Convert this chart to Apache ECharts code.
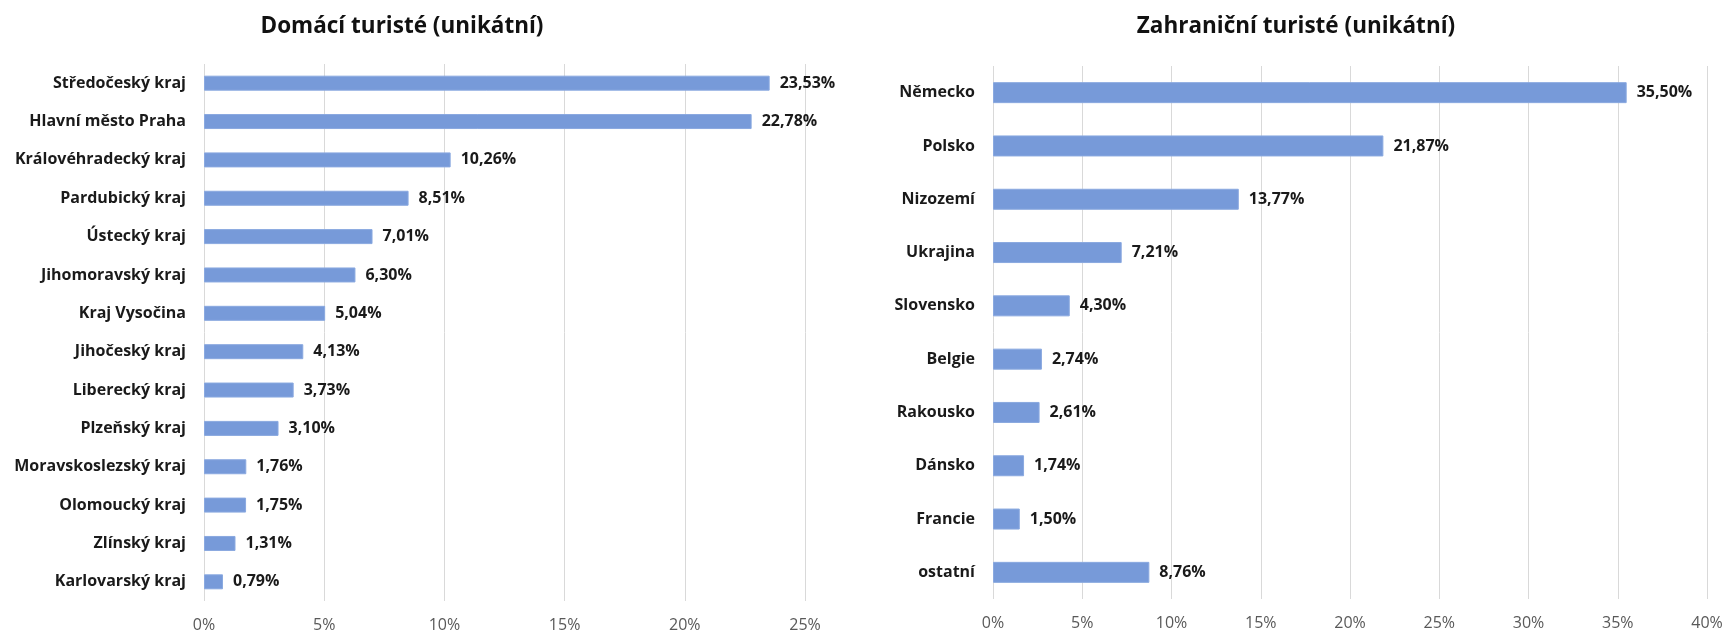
<!DOCTYPE html>
<html>
<head>
<meta charset="utf-8">
<script src="https://cdn.jsdelivr.net/npm/echarts@6/dist/echarts.min.js"></script>
<style>
html,body{margin:0;padding:0;background:#fff;}
#chart{width:1727px;height:635px;}
</style>
</head>
<body>
<div id="chart"></div>
<script>
const domCategories = ["Středočeský kraj","Hlavní město Praha","Královéhradecký kraj","Pardubický kraj","Ústecký kraj","Jihomoravský kraj","Kraj Vysočina","Jihočeský kraj","Liberecký kraj","Plzeňský kraj","Moravskoslezský kraj","Olomoucký kraj","Zlínský kraj","Karlovarský kraj"];
const domValues = [23.53,22.78,10.26,8.51,7.01,6.30,5.04,4.13,3.73,3.10,1.76,1.75,1.31,0.79];
const zahrCategories = ["Německo","Polsko","Nizozemí","Ukrajina","Slovensko","Belgie","Rakousko","Dánsko","Francie","ostatní"];
const zahrValues = [35.50,21.87,13.77,7.21,4.30,2.74,2.61,1.74,1.50,8.76];
const titles = ["Domácí turisté (unikátní)","Zahraniční turisté (unikátní)"];

const FONT = '"Open Sans", Lato, sans-serif';
const barColor = '#779ad9';
const fmtVal = v => v.toFixed(2).replace('.', ',') + '%';

function xAxis(gridIndex, max){
  return {
    type:'value', gridIndex, min:0, max, interval:5,
    axisLine:{show:false}, axisTick:{show:false},
    splitLine:{show:true, lineStyle:{color:'#d9d9d9', width:1}},
    axisLabel:{formatter:'{value}%', color:'#595959', fontFamily:FONT, fontSize:16, margin:16}
  };
}
function yAxis(gridIndex, data, margin){
  return {
    type:'category', gridIndex, data, inverse:true,
    axisLine:{show:false}, axisTick:{show:false},
    axisLabel:{color:'#1a1a1a', fontFamily:FONT, fontSize:16, fontWeight:'bold', margin}
  };
}
function series(idx, data, width){
  return {
    type:'bar', xAxisIndex:idx, yAxisIndex:idx, data, barWidth:width,
    itemStyle:{color:barColor, borderColor:'#8aa9e0', borderWidth:1},
    label:{show:true, position:'right', distance:10, formatter:p=>fmtVal(p.value),
      color:'#1a1a1a', fontFamily:FONT, fontSize:16, fontWeight:'bold'},
    silent:true, animation:false
  };
}

const chart = echarts.init(document.getElementById('chart'), null, {renderer:'canvas'});
chart.setOption({
  animation:false,
  title:[
    {text:titles[0], left:397, top:10, textAlign:'center', textStyle:{fontFamily:FONT, fontSize:22.5, fontWeight:'bold', color:'#111'}},
    {text:titles[1], left:1291, top:10, textAlign:'center', textStyle:{fontFamily:FONT, fontSize:22.5, fontWeight:'bold', color:'#111'}}
  ],
  grid:[
    {left:204, right:922, top:64, bottom:34},
    {left:993, right:20, top:66, bottom:36}
  ],
  xAxis:[xAxis(0,25), xAxis(1,40)],
  yAxis:[yAxis(0, domCategories, 18), yAxis(1, zahrCategories, 18)],
  series:[series(0, domValues, 15), series(1, zahrValues, 21)]
});
</script>
</body>
</html>
